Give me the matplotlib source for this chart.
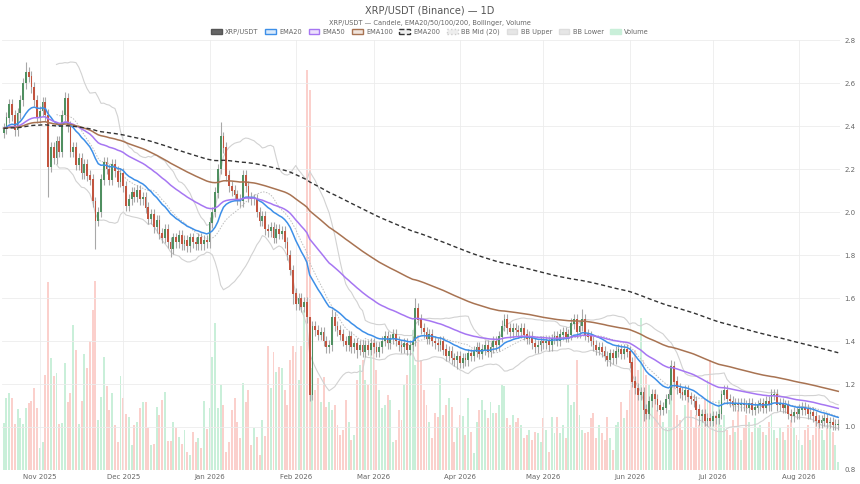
import matplotlib
matplotlib.use("Agg")
import matplotlib.pyplot as plt
import matplotlib.dates as mdates
from matplotlib.patches import Patch
import numpy as np
import pandas as pd

start_date = "2025-10-19"
closes = [
 2.39,2.44,2.50,2.45,2.38,2.46,2.52,2.60,2.65,2.63,
 2.58,2.52,2.44,2.47,2.51,2.45,2.21,2.30,2.25,2.33,
 2.28,2.45,2.53,2.40,2.28,2.30,2.22,2.25,2.18,2.22,
 2.17,2.15,2.05,1.96,2.00,2.15,2.23,2.20,2.15,2.22,
 2.19,2.14,2.18,2.12,2.03,2.06,2.09,2.07,2.10,2.06,
 2.07,2.02,1.97,1.99,1.93,1.96,1.90,1.88,1.92,1.86,
 1.83,1.88,1.86,1.89,1.85,1.87,1.84,1.88,1.86,1.85,
 1.88,1.85,1.87,1.86,1.95,2.00,2.09,2.20,2.35,2.30,
 2.17,2.12,2.10,2.08,2.06,2.05,2.17,2.12,2.07,2.06,
 2.06,2.00,1.96,1.98,1.92,1.91,1.93,1.88,1.92,1.90,
 1.91,1.86,1.80,1.73,1.62,1.57,1.60,1.56,1.58,1.51,
 1.15,1.47,1.45,1.43,1.44,1.40,1.37,1.38,1.51,1.47,
 1.45,1.43,1.40,1.38,1.42,1.37,1.39,1.36,1.38,1.35,
 1.38,1.36,1.39,1.37,1.35,1.37,1.40,1.42,1.39,1.41,
 1.43,1.40,1.38,1.37,1.39,1.36,1.38,1.40,1.55,1.50,
 1.46,1.44,1.41,1.43,1.40,1.39,1.38,1.40,1.36,1.33,
 1.35,1.32,1.31,1.33,1.30,1.32,1.31,1.34,1.33,1.35,
 1.37,1.34,1.36,1.38,1.35,1.37,1.40,1.38,1.42,1.47,
 1.50,1.46,1.44,1.46,1.45,1.44,1.46,1.43,1.41,1.42,
 1.39,1.37,1.38,1.40,1.39,1.40,1.38,1.41,1.42,1.40,
 1.43,1.44,1.42,1.43,1.48,1.50,1.44,1.47,1.50,1.43,
 1.42,1.40,1.38,1.36,1.37,1.35,1.33,1.31,1.34,1.32,
 1.35,1.36,1.34,1.36,1.35,1.30,1.21,1.18,1.15,1.16,
 1.08,1.06,1.12,1.15,1.13,1.10,1.08,1.09,1.13,1.15,
 1.28,1.21,1.18,1.16,1.15,1.17,1.14,1.13,1.12,1.08,
 1.05,1.06,1.03,1.04,1.03,1.05,1.04,1.06,1.15,1.17,
 1.13,1.12,1.10,1.11,1.10,1.11,1.10,1.09,1.11,1.08,
 1.09,1.10,1.11,1.09,1.12,1.10,1.15,1.15,1.10,1.11,
 1.09,1.10,1.06,1.05,1.07,1.06,1.08,1.09,1.08,1.06,
 1.07,1.05,1.03,1.02,1.03,1.04,1.02,1.02,1.01,1.01,
 1.01]
first_open = 2.37
volumes = [
 47,72,77,72,46,61,52,46,62,67,69,82,62,22,28,95,188,112,94,97,
 46,47,107,68,77,145,120,46,69,116,102,129,160,189,50,73,113,84,60,77,
 45,28,94,72,56,53,25,45,48,62,68,68,42,25,26,63,55,70,78,29,
 29,48,42,33,26,40,18,15,38,28,32,22,69,41,62,113,147,62,85,65,
 18,28,60,72,48,32,87,68,80,25,42,33,15,50,34,124,82,118,98,103,
 102,80,65,110,124,118,90,124,160,400,380,102,80,92,68,93,63,68,60,65,
 45,35,40,70,48,30,35,90,105,110,90,85,120,130,100,80,62,65,75,70,
 28,30,60,50,85,95,115,140,105,135,110,80,65,48,32,57,53,92,55,65,
 72,63,28,42,55,54,35,72,38,17,48,60,70,60,52,68,57,57,65,85,
 84,52,45,55,48,52,45,32,35,40,30,38,37,28,52,40,18,53,37,53,
 37,45,32,85,65,68,110,55,40,37,38,52,57,32,45,37,30,53,32,20,
 45,48,68,52,60,80,90,120,100,152,110,95,85,75,80,60,55,48,42,60,
 105,90,55,50,40,65,80,60,42,55,45,60,70,90,110,65,55,70,45,55,
 40,35,50,38,60,30,42,55,48,38,52,42,45,38,35,48,55,40,32,42,
 38,30,45,50,42,35,30,25,40,45,30,35,48,55,40,30,45,50,38,25,
 8]
# notable wicks (index: extra above / below body)
wick_up = {8:0.05,16:0.03,22:0.03,33:0.02,78:0.07,110:0.0,118:0.04,148:0.05,179:0.03,208:0.05,240:0.03,258:0.02}
wick_dn = {16:0.14,33:0.13,60:0.04,104:0.05,110:0.03,127:0.04,163:0.04,230:0.05,250:0.04}
base_wick = 0.025

n = len(closes)
dates = pd.date_range(start_date, periods=n, freq="D")
x = mdates.date2num(dates)
c = np.array(closes)
o = np.concatenate([[first_open], c[:-1]])
hi = np.maximum(o, c) + np.array([wick_up.get(i, base_wick) for i in range(n)])
lo = np.minimum(o, c) - np.array([wick_dn.get(i, base_wick) for i in range(n)])
up = c >= o

s = pd.Series(c)
ema20 = s.ewm(span=20, adjust=False).mean()
ema50 = s.ewm(span=50, adjust=False).mean()
ema100 = s.ewm(span=100, adjust=False).mean()
ema200 = s.ewm(span=200, adjust=False).mean()
mid = s.rolling(20).mean()
sd = s.rolling(20).std(ddof=0)
bbu = mid + 2 * sd
bbl = mid - 2 * sd

GREEN = "#4f8f60"; RED = "#c2543f"
fig = plt.figure(figsize=(8.6, 4.84), dpi=100)
ax = fig.add_axes([0.0023, 0.029, 0.975, 0.888])
axv = ax.twinx()
axv.set_zorder(0); ax.set_zorder(1); ax.patch.set_visible(False)
axv.bar(x, volumes, width=0.7, color=np.where(up, "#c9efd9", "#fbd0cc"), zorder=1)
axv.set_ylim(0, 430)
axv.set_yticks([])
for sp in axv.spines.values(): sp.set_visible(False)

ax.plot(x, bbu, color="#d2d2d2", lw=0.8, zorder=2)
ax.plot(x, bbl, color="#d2d2d2", lw=0.8, zorder=2)
ax.plot(x, mid, color="#bdbdbd", lw=0.7, ls=(0, (1.5, 1.5)), zorder=2)
ax.vlines(x, lo, hi, color="#a8a8a8", lw=0.8, zorder=3)
ax.bar(x, np.abs(c - o) + 0.002, bottom=np.minimum(o, c), width=0.65,
       color=np.where(up, GREEN, RED), zorder=4)
ax.plot(x, ema20, color="#3d8fe8", lw=1.1, zorder=5)
ax.plot(x, ema50, color="#a676f2", lw=1.1, zorder=5)
ax.plot(x, ema100, color="#a87352", lw=1.1, zorder=5)
ax.plot(x, ema200, color="#333333", lw=1.0, ls=(0, (3, 2)), zorder=5)

ax.set_ylim(0.8, 2.8)
ax.set_xlim(x[0] - 0.6, x[-1] + 0.8)
ax.yaxis.tick_right()
ax.set_yticks(np.arange(0.8, 2.81, 0.2))
ax.yaxis.set_major_formatter(plt.FuncFormatter(lambda v, p: f"{v:.1f}"))
ax.xaxis.set_major_locator(mdates.MonthLocator())
ax.xaxis.set_major_formatter(mdates.DateFormatter("%b %Y"))
ax.tick_params(labelsize=5, colors="#666666", length=0, pad=3)
ax.grid(True, color="#ececec", lw=0.6)
axv.grid(False)
for sp in ax.spines.values(): sp.set_visible(False)

fig.text(0.5, 0.978, "XRP/USDT (Binance) — 1D", ha="center", va="center", fontsize=7, color="#555555")
fig.text(0.5, 0.952, "XRP/USDT — Candele, EMA20/50/100/200, Bollinger, Volume", ha="center", va="center", fontsize=4.8, color="#666666")
handles = [
 Patch(facecolor="#666666", edgecolor="#555555", label="XRP/USDT"),
 Patch(facecolor="#d8e9fb", edgecolor="#3d8fe8", label="EMA20"),
 Patch(facecolor="#ece0fc", edgecolor="#a676f2", label="EMA50"),
 Patch(facecolor="#f0e4dc", edgecolor="#a87352", label="EMA100"),
 Patch(facecolor="#eeeeee", edgecolor="#333333", ls="--", label="EMA200"),
 Patch(facecolor="#eeeeee", edgecolor="#cccccc", ls=":", label="BB Mid (20)"),
 Patch(facecolor="#e6e6e6", edgecolor="#dddddd", label="BB Upper"),
 Patch(facecolor="#e6e6e6", edgecolor="#dddddd", label="BB Lower"),
 Patch(facecolor="#c9efd9", edgecolor="#c9efd9", label="Volume"),
]
fig.legend(handles=handles, loc="center", bbox_to_anchor=(0.5, 0.934), ncol=9, frameon=False,
           fontsize=4.8, labelcolor="#666666", handlelength=1.6, handleheight=0.9,
           columnspacing=1.0, handletextpad=0.5)
fig.savefig("out.png", dpi=100)
